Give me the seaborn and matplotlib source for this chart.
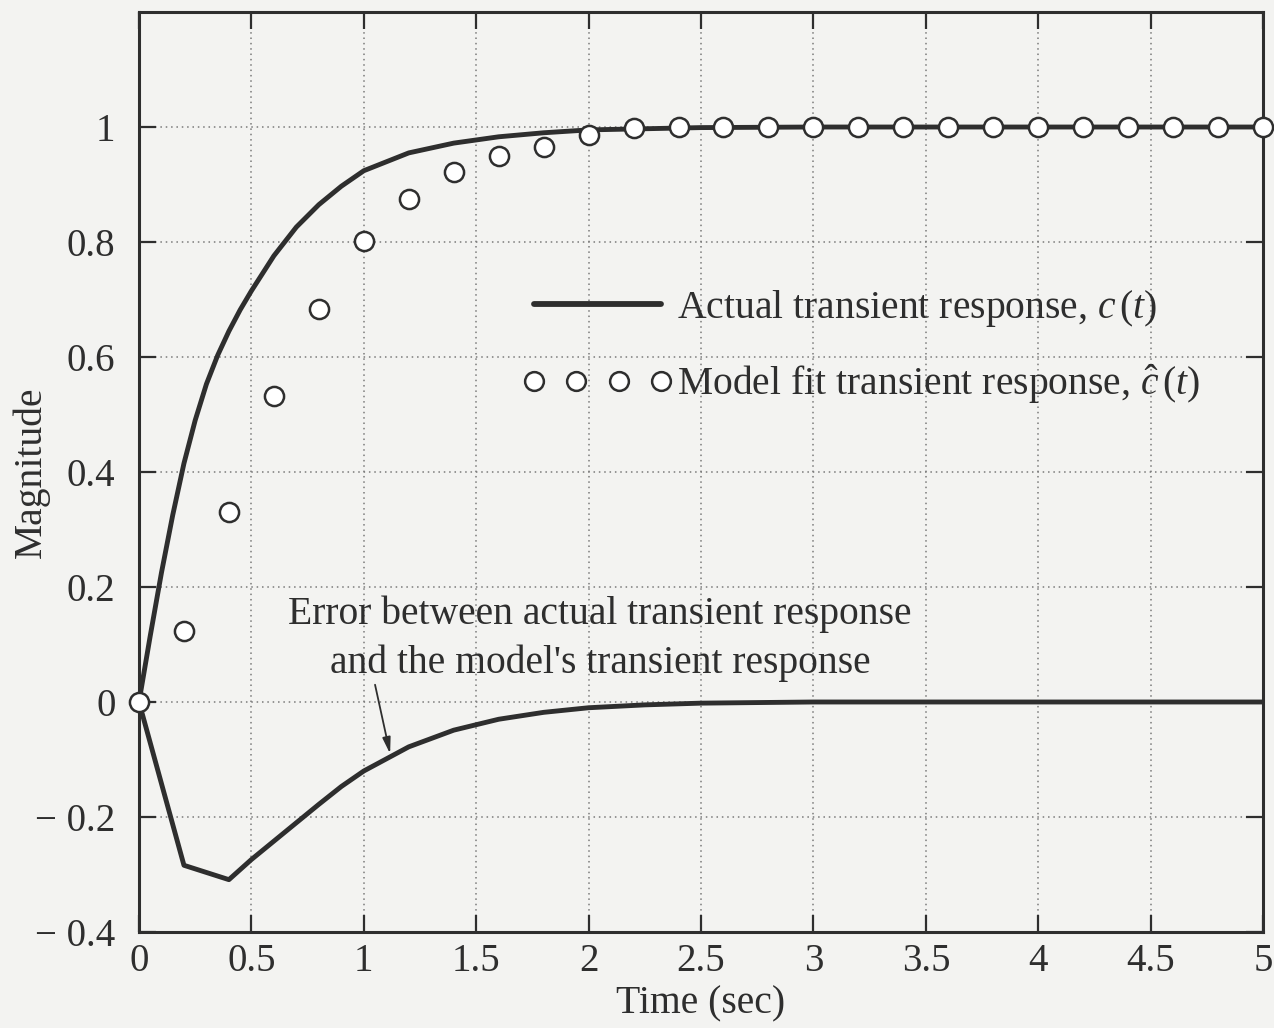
import matplotlib
matplotlib.use("Agg")
import matplotlib.pyplot as plt
from matplotlib.lines import Line2D
import seaborn as sns
import pandas as pd

# Actual transient response c(t)
t_actual = [0, 0.05, 0.1, 0.15, 0.2, 0.25, 0.3, 0.35, 0.4, 0.45, 0.5, 0.6,
            0.7, 0.8, 0.9, 1.0, 1.2, 1.4, 1.6, 1.8, 2.0, 2.5, 3.0, 3.5, 4.0,
            4.5, 5.0]
c_actual = [0, 0.115, 0.225, 0.325, 0.415, 0.49, 0.553, 0.603, 0.645, 0.682,
            0.715, 0.776, 0.826, 0.865, 0.897, 0.924, 0.955, 0.972, 0.983,
            0.990, 0.995, 0.999, 1.0, 1.0, 1.0, 1.0, 1.0]

# Model fit transient response c_hat(t), sampled every 0.2 s
t_model = [0, 0.2, 0.4, 0.6, 0.8, 1.0, 1.2, 1.4, 1.6, 1.8, 2.0, 2.2, 2.4,
           2.6, 2.8, 3.0, 3.2, 3.4, 3.6, 3.8, 4.0, 4.2, 4.4, 4.6, 4.8, 5.0]
c_model = [0, 0.123, 0.331, 0.533, 0.684, 0.802, 0.875, 0.921, 0.950,
           0.966, 0.986, 0.998, 1.0, 1.0, 1.0, 1.0, 1.0, 1.0, 1.0, 1.0,
           1.0, 1.0, 1.0, 1.0, 1.0, 1.0]

# Error between model and actual response
t_error = [0, 0.2, 0.4, 0.5, 0.6, 0.7, 0.8, 0.9, 1.0, 1.2, 1.4, 1.6, 1.8,
           2.0, 2.25, 2.5, 3.0, 4.0, 5.0]
e_error = [0, -0.284, -0.309, -0.274, -0.242, -0.210, -0.178, -0.147,
           -0.120, -0.078, -0.049, -0.030, -0.018, -0.010, -0.005, -0.002,
           0, 0, 0]

x_ticks = [0, 0.5, 1, 1.5, 2, 2.5, 3, 3.5, 4, 4.5, 5]
x_tick_labels = ["0", "0.5", "1", "1.5", "2", "2.5", "3", "3.5", "4", "4.5", "5"]
y_ticks = [-0.4, -0.2, 0, 0.2, 0.4, 0.6, 0.8, 1.0]
y_tick_labels = ["\u2212 0.4", "\u2212 0.2", "0", "0.2", "0.4", "0.6", "0.8", "1"]

legend_labels = [r"Actual transient response, $c\,(t)$",
                 r"Model fit transient response, $\hat{c}\,(t)$"]
note_text = "Error between actual transient response\nand the model's transient response"

ink = "#2e2e2e"
paper = "#f3f3f1"

sns.set_theme(style="ticks")
plt.rcParams["font.family"] = ["Liberation Serif", "DejaVu Serif"]
plt.rcParams["mathtext.fontset"] = "custom"
plt.rcParams["mathtext.rm"] = "Liberation Serif"
plt.rcParams["mathtext.it"] = "Liberation Serif:italic"
plt.rcParams["text.color"] = ink
plt.rcParams["axes.labelcolor"] = ink
plt.rcParams["xtick.color"] = ink
plt.rcParams["ytick.color"] = ink

fig = plt.figure(figsize=(12.74, 10.28), dpi=100, facecolor=paper)
ax = fig.add_axes([0.1091, 0.0934, 0.8823, 0.8949])
ax.set_facecolor(paper)

df_actual = pd.DataFrame({"t": t_actual, "c": c_actual})
df_model = pd.DataFrame({"t": t_model, "c": c_model})
df_error = pd.DataFrame({"t": t_error, "e": e_error})

sns.lineplot(data=df_actual, x="t", y="c", ax=ax, color=ink, lw=3.5,
             zorder=3, legend=False)
sns.lineplot(data=df_error, x="t", y="e", ax=ax, color=ink, lw=3.5,
             zorder=3, legend=False)
sns.scatterplot(data=df_model, x="t", y="c", ax=ax, s=190, marker="o",
                facecolor="white", edgecolor=ink, linewidth=1.8, zorder=4,
                legend=False, clip_on=False)

ax.set_xlim(0, 5)
ax.set_ylim(-0.4, 1.2)
ax.set_xticks(x_ticks)
ax.set_xticklabels(x_tick_labels)
ax.set_yticks(y_ticks)
ax.set_yticklabels(y_tick_labels)
ax.tick_params(direction="in", top=True, right=True, length=12, width=1.6,
               labelsize=28, pad=17)
ax.tick_params(axis="x", pad=8)

ax.grid(True, linestyle=(0, (1, 2.5)), color="#7a7a7a", lw=1.1)
for side in ax.spines.values():
    side.set_linewidth(2.2)
    side.set_color(ink)

ax.set_xlabel("Time (sec)", fontsize=28.5, labelpad=4)
ax.set_ylabel("Magnitude", fontsize=28.5)
ax.yaxis.set_label_coords(-0.079, 0.5)

handles = [
    Line2D([], [], color=ink, lw=4.2),
    Line2D([], [], ls="none", marker="o", ms=13.5, mfc="white", mec=ink,
           mew=1.8),
]
ax.legend(handles, legend_labels, loc="center left",
          bbox_to_anchor=(0.341, 0.636), frameon=False, fontsize=28.5,
          handlelength=3.8, handletextpad=0.12, labelspacing=0.85,
          numpoints=4, borderpad=0, borderaxespad=0)

ax.text(2.05, 0.11, note_text, fontsize=28.5, ha="center", va="center",
        ma="center", linespacing=1.42)
ax.annotate("", xy=(1.117, -0.090), xytext=(1.05, 0.030),
            arrowprops=dict(arrowstyle="-|>,head_length=0.8,head_width=0.2",
                            color=ink, lw=1.3, shrinkA=0, shrinkB=0))

fig.savefig("out.png", dpi=100, facecolor=paper)
